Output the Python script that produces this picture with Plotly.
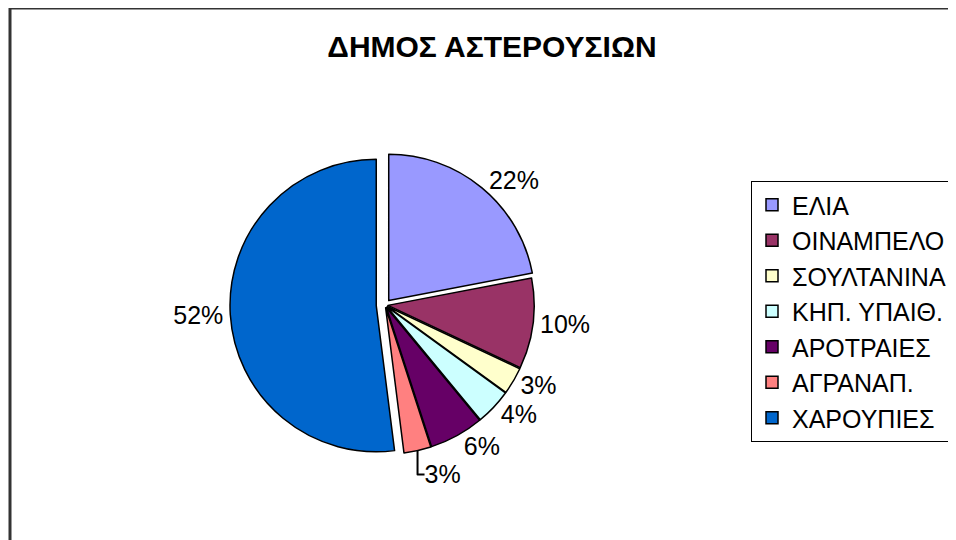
import plotly.graph_objects as go

labels = ["ΕΛΙΑ", "ΟΙΝΑΜΠΕΛΟ", "ΣΟΥΛΤΑΝΙΝΑ", "ΚΗΠ. ΥΠΑΙΘ.", "ΑΡΟΤΡΑΙΕΣ", "ΑΓΡΑΝΑΠ.", "ΧΑΡΟΥΠΙΕΣ"]
values = [22, 10, 3, 4, 6, 3, 52]
colors = ["#9999FF", "#993366", "#FFFFCC", "#CCFFFF", "#660066", "#FF8080", "#0066CC"]
pulls = [0.04, 0.02, 0.02, 0.02, 0.02, 0.02, 0.06]

W, H = 956, 540
OFF = 8  # page body margin


def px(x):
    return (x - OFF) / W


def py(y):
    return 1 - (y - OFF) / H


fig = go.Figure(go.Pie(
    labels=labels,
    values=values,
    sort=False,
    direction="clockwise",
    rotation=0,
    pull=pulls,
    marker=dict(colors=colors, line=dict(color="black", width=1.5)),
    textinfo="percent",
    textposition="outside",
    texttemplate="%{percent:.0%}",
    outsidetextfont=dict(family="Liberation Sans, Arial", size=25, color="black"),
    domain=dict(x=[px(230), px(540)], y=[py(460), py(150)]),
    showlegend=True,
))

fig.update_layout(
    width=W, height=H,
    margin=dict(l=0, r=0, t=0, b=0),
    paper_bgcolor="white",
    plot_bgcolor="white",
    font=dict(family="Liberation Sans, Arial", color="black"),
    title=dict(
        text="<b>ΔΗΜΟΣ ΑΣΤΕΡΟΥΣΙΩΝ</b>",
        x=px(492), xanchor="center",
        y=py(46), yanchor="middle",
        font=dict(family="Liberation Sans, Arial", size=30, color="black"),
    ),
    legend=dict(
        x=px(751), xanchor="left",
        y=py(181), yanchor="top",
        bgcolor="white",
        bordercolor="black", borderwidth=1,
        font=dict(family="Liberation Sans, Arial", size=25, color="black"),
        itemwidth=30,
    ),
    shapes=[dict(
        type="rect", xref="paper", yref="paper",
        x0=px(10), y0=-0.05, x1=1.05, y1=1.0,
        line=dict(color="#333333", width=3),
        layer="below",
    )],
)

fig.write_html("out.html")
